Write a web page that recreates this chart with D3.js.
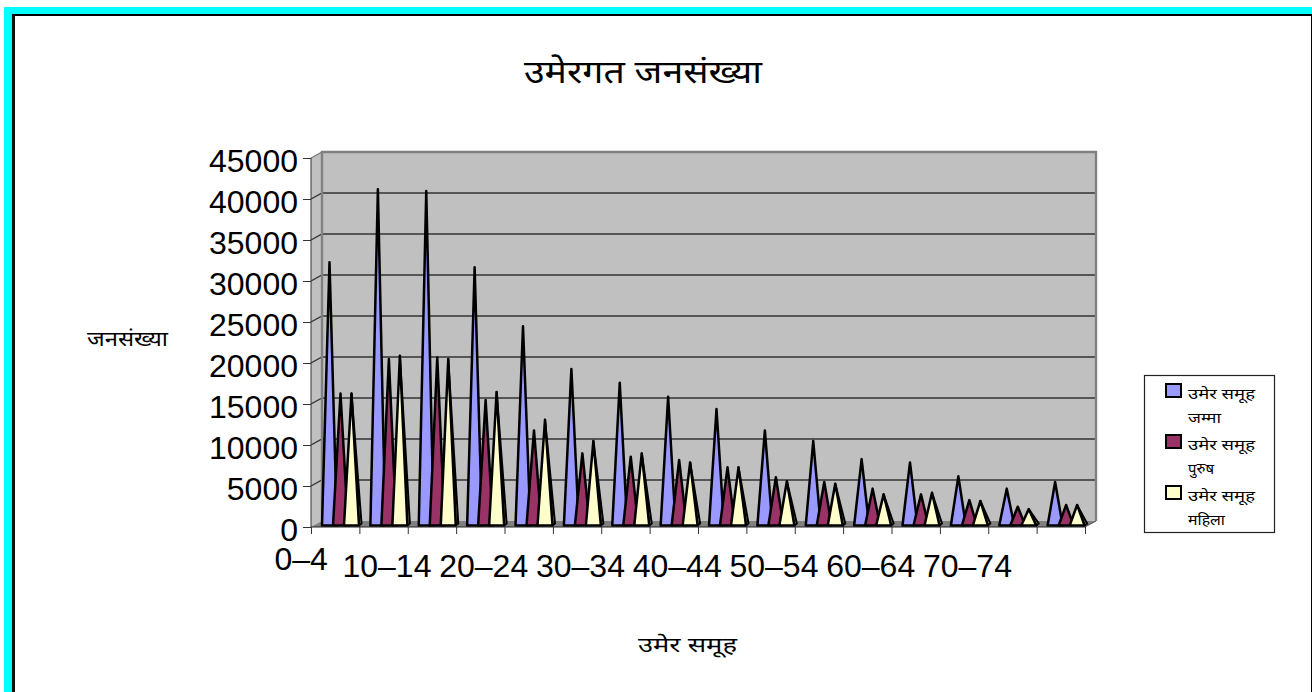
<!DOCTYPE html>
<html>
<head>
<meta charset="utf-8">
<script src="https://cdn.jsdelivr.net/npm/d3@7"></script>
<style>
  html, body { margin: 0; padding: 0; background: #fff; }
  svg { display: block; }
  .num { font-family: "Liberation Sans", Arial, sans-serif; fill: #000; }
  .dev { font-family: "Noto Sans", "DejaVu Sans", serif; fill: #000; }
</style>
</head>
<body>
<div id="chart"></div>
<script>
const categories = ["0–4", "5–9", "10–14", "15–19", "20–24", "25–29", "30–34", "35–39", "40–44", "45–49", "50–54", "55–59", "60–64", "65–69", "70–74", "75+"];
const tickLabels = ["0–4", "10–14", "20–24", "30–34", "40–44", "50–54", "60–64", "70–74"];
const yTicks = [0, 5000, 10000, 15000, 20000, 25000, 30000, 35000, 40000, 45000];
const total = [32400, 41300, 41100, 31800, 24600, 19400, 17700, 16000, 14500, 11900, 10600, 8400, 8000, 6300, 4800, 5600];
const male = [16400, 20600, 20800, 15600, 11900, 9100, 8700, 8300, 7400, 6200, 5600, 4800, 4100, 3400, 2600, 2800];
const female = [16400, 21000, 20600, 16600, 13200, 10600, 9100, 8000, 7400, 5700, 5400, 4100, 4300, 3300, 2300, 2800];
const legendLines = [["उमेर समूह", "जम्मा"], ["उमेर समूह", "पुरुष"], ["उमेर समूह", "महिला"]];
const seriesColors = ["#9999ff", "#993366", "#ffffcc"];
const series = [total, male, female];

let width = 1312;
let height = 692;
let plot = {left: 311, right: 1085, top: 158, bottom: 527};
let depth = {x: 11, y: -6};
// the chart's Devanagari font runs wider than the installed one, so widths are fitted
const legendWidths = {"उमेर समूह": 67, "जम्मा": 33, "पुरुष": 26, "महिला": 37};

const svg = d3.select("#chart").append("svg")
    .attr("width", width)
    .attr("height", height)
    .attr("viewBox", [0, 0, width, height]);

// page frame
svg.append("rect").attr("x", 4).attr("y", 7).attr("width", width - 4).attr("height", 7).attr("fill", "#00ffff");
svg.append("rect").attr("x", 4).attr("y", 7).attr("width", 8).attr("height", height - 7).attr("fill", "#00ffff");
svg.append("rect").attr("x", 12).attr("y", 14).attr("width", width - 12).attr("height", 2).attr("fill", "#000");
svg.append("rect").attr("x", 12).attr("y", 14).attr("width", 3).attr("height", height - 14).attr("fill", "#111");
svg.append("rect").attr("x", width - 1).attr("y", 14).attr("width", 1).attr("height", height - 14).attr("fill", "#000");

const xScale = d3.scaleBand().domain(categories).range([plot.left, plot.right]);
const yScale = d3.scaleLinear().domain([0, 45000]).range([plot.bottom, plot.top]);
const seriesScale = d3.scaleBand().domain(d3.range(3)).range([13, 46]);

// walls and floor
const yTop = yScale(45000), yBot = yScale(0);
svg.append("path")
    .attr("fill", "#c0c0c0")
    .attr("d", d3.line()([[plot.left, yTop], [plot.left + depth.x, yTop + depth.y], [plot.right + depth.x, yTop + depth.y], [plot.right + depth.x, yBot + depth.y], [plot.right, yBot], [plot.left, yBot]]) + "Z");
svg.append("path")
    .attr("fill", "#808080")
    .attr("d", d3.line()([[plot.left, yBot], [plot.left + depth.x, yBot + depth.y], [plot.right + depth.x, yBot + depth.y], [plot.right, yBot]]) + "Z");

// gridlines on the back wall plus the connector to the axis
const grid = svg.append("g");
grid.selectAll("path.grid").data(yTicks.slice(1, -1)).join("path")
    .attr("class", "grid")
    .attr("fill", "none")
    .attr("stroke", "#333")
    .attr("stroke-width", 1.4)
    .attr("d", d => d3.line()([[plot.left, yScale(d)], [plot.left + depth.x, yScale(d) + depth.y], [plot.right + depth.x, yScale(d) + depth.y]]));
svg.append("path")
    .attr("fill", "none")
    .attr("stroke", "#808080")
    .attr("stroke-width", 2.4)
    .attr("d", d3.line()([[plot.left + depth.x, yBot + depth.y], [plot.left + depth.x, yTop + depth.y], [plot.right + depth.x, yTop + depth.y], [plot.right + depth.x, yBot + depth.y]]));
svg.append("path")
    .attr("fill", "none")
    .attr("stroke", "#777")
    .attr("stroke-width", 1.2)
    .attr("d", d3.line()([[plot.left, yTop], [plot.left + depth.x, yTop + depth.y]]));
svg.append("path")
    .attr("fill", "none")
    .attr("stroke", "#555")
    .attr("stroke-width", 1)
    .attr("d", d3.line()([[plot.right, yBot], [plot.right + depth.x, yBot + depth.y]]));

// cones, drawn series by series inside each category so later ones sit in front
const coneHalf = 7.5;
const baseY = yBot - 1.5;
categories.forEach((c, i) => {
    const g = svg.append("g");
    series.forEach((values, s) => {
        const apexX = xScale(c) + seriesScale(s) + seriesScale.bandwidth() / 2;
        const apexY = yScale(values[i]) + 1;
        if (s == 2) {
            // the shaded side that only shows on the last cone
            g.append("path")
                .attr("fill", "#a8a888")
                .attr("stroke", "#000")
                .attr("stroke-width", 2)
                .attr("stroke-linejoin", "round")
                .attr("d", d3.line()([[apexX, apexY], [apexX + coneHalf + 2.5, baseY - 2], [apexX + coneHalf, baseY]]) + "Z");
        }
        g.append("path")
            .attr("fill", seriesColors[s])
            .attr("stroke", "#000")
            .attr("stroke-width", 2.5)
            .attr("stroke-linejoin", "round")
            .attr("d", d3.line()([[apexX - coneHalf, baseY], [apexX, apexY], [apexX + coneHalf, baseY]]) + "Z");
    });
});

// y axis
const yAxis = d3.axisLeft(yScale).tickValues(yTicks).tickSize(8).tickPadding(5).tickFormat(d3.format("d"));
svg.append("g")
    .attr("transform", `translate(${plot.left},0)`)
    .call(yAxis)
    .call(g => g.select(".domain").attr("stroke", "#333").attr("d", `M0,${plot.top}V${plot.bottom}`))
    .call(g => g.selectAll(".tick line").attr("stroke", "#333"))
    .call(g => g.selectAll(".tick text").attr("class", "num").attr("font-size", 32).attr("font-family", null).attr("dy", "0.41em"));

// x axis: ticks on the category boundaries, labels sit on every second category
const xEdges = d3.scaleLinear().domain([0, categories.length]).range([plot.left, plot.right]);
const xAxis = d3.axisBottom(xEdges).tickValues(d3.range(categories.length + 1)).tickSize(7).tickFormat("");
svg.append("g")
    .attr("transform", `translate(0,${plot.bottom})`)
    .call(xAxis)
    .call(g => g.select(".domain").attr("stroke", "#222").attr("d", `M${plot.left},0H${plot.right}`))
    .call(g => g.selectAll(".tick line").attr("stroke", "#333"));

svg.append("g").selectAll("text").data(tickLabels).join("text")
    .attr("class", "num")
    .attr("font-size", 32)
    .attr("text-anchor", "middle")
    .attr("x", (d, i) => xScale(d) + xScale.bandwidth() / 2 - (i == 0 ? 34 : 45))
    .attr("y", (d, i) => i == 0 ? 570 : 577)
    .text(d => d);

// titles
svg.append("text").attr("class", "dev").attr("x", 643).attr("y", 83).attr("font-size", 32)
    .attr("text-anchor", "middle").attr("textLength", 238).attr("lengthAdjust", "spacingAndGlyphs").text("उमेरगत जनसंख्या");
svg.append("text").attr("class", "dev").attr("x", 127.5).attr("y", 346).attr("font-size", 20)
    .attr("text-anchor", "middle").attr("textLength", 81).attr("lengthAdjust", "spacingAndGlyphs").text("जनसंख्या");
svg.append("text").attr("class", "dev").attr("x", 687.5).attr("y", 652).attr("font-size", 20)
    .attr("text-anchor", "middle").attr("textLength", 99).attr("lengthAdjust", "spacingAndGlyphs").text("उमेर समूह");

// legend
svg.append("rect").attr("x", 1144.5).attr("y", 375.5).attr("width", 130).attr("height", 157)
    .attr("fill", "#fff").attr("stroke", "#222").attr("stroke-width", 1.2);
const legendY = d3.scaleBand().domain(d3.range(3)).range([378, 531]);
const legend = svg.append("g").selectAll("g").data(legendLines).join("g")
    .attr("transform", (d, i) => `translate(0,${legendY(i)})`);
legend.append("rect").attr("x", 1166).attr("y", 6).attr("width", 15).attr("height", 13)
    .attr("fill", (d, i) => seriesColors[i]).attr("stroke", "#000").attr("stroke-width", 2);
legend.selectAll("text").data(d => d).join("text")
    .attr("class", "dev").attr("font-size", 14).attr("x", 1188)
    .attr("y", (d, i) => 21 + i * 24)
    .attr("textLength", d => legendWidths[d])
    .attr("lengthAdjust", "spacingAndGlyphs")
    .text(d => d);
</script>
</body>
</html>
